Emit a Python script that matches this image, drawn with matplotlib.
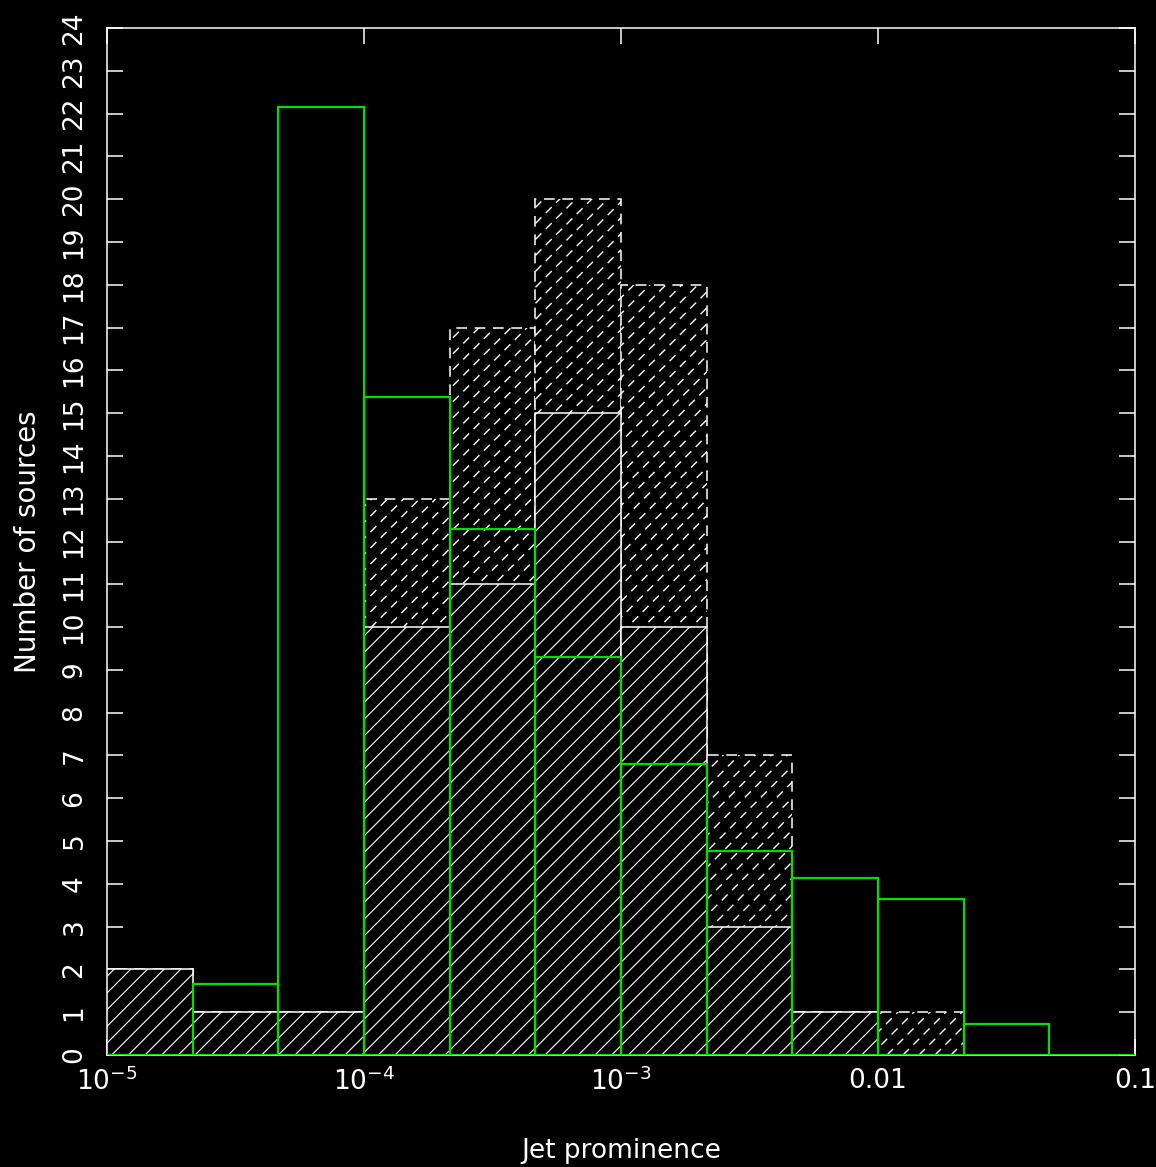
import numpy as np
import matplotlib
matplotlib.use("Agg")
import matplotlib.pyplot as plt
from matplotlib.collections import LineCollection
from matplotlib.ticker import FixedLocator, FixedFormatter, NullLocator

# Bin edges: 1/3 decade from 1e-5 to 0.1
log_edges = [-5, -14 / 3, -13 / 3, -4, -11 / 3, -10 / 3, -3, -8 / 3, -7 / 3, -2, -5 / 3, -4 / 3, -1]
edges = [10 ** e for e in log_edges]

# Counts per bin
solid_counts = [2, 1, 1, 10, 11, 15, 10, 3, 1, 0, 0, 0]
dashed_counts = [2, 1, 1, 13, 17, 20, 18, 7, 1, 1, 0, 0]
green_counts = [0, 1.66, 22.15, 15.37, 12.29, 9.30, 6.80, 4.76, 4.14, 3.64, 0.72, 0]

xtick_vals = [1e-5, 1e-4, 1e-3, 1e-2, 1e-1]
xtick_labels = [r"$10^{-5}$", r"$10^{-4}$", r"$10^{-3}$", "0.01", "0.1"]
yticks = list(range(0, 25))

plt.rcParams["font.family"] = ["DejaVu Sans"]
plt.rcParams["mathtext.default"] = "regular"
plt.rcParams["hatch.color"] = "white"
plt.rcParams["hatch.linewidth"] = 0.8

fig = plt.figure(figsize=(11.56, 11.67), dpi=100, facecolor="black")
ax = fig.add_axes([107 / 1156, 1 - 1055 / 1167, 1028 / 1156, 1027 / 1167])
ax.set_facecolor("black")

lefts = np.array(edges[:-1])
widths = np.diff(edges)

# dashed histogram (behind)
dashed_bars = ax.bar(lefts, dashed_counts, width=widths, align="edge",
                     facecolor="black", edgecolor="white", linewidth=1.1,
                     linestyle=(0, (7, 5)), zorder=2)

# dashed hatching, drawn by hand so the hatch lines can be dashed
step = 16 / 1028
segs = [[(t, 0), (t + 1, 1)] for t in np.arange(-1, 1, step)]
for bar, h in zip(dashed_bars, dashed_counts):
    if h <= 0:
        continue
    lc = LineCollection(segs, colors="white", linewidths=1.0,
                        linestyles=[(0, (6, 4.5))], transform=ax.transAxes, zorder=2.5)
    ax.add_collection(lc)
    lc.set_clip_path(bar)

# solid hatched histogram
ax.bar(lefts, solid_counts, width=widths, align="edge",
       facecolor="black", edgecolor="white", linewidth=1.1, hatch="//", zorder=3)

# green outline histogram
ax.bar(lefts, green_counts, width=widths, align="edge",
       fill=False, edgecolor="#00e000", linewidth=1.6, zorder=4)

ax.set_xscale("log")
ax.set_xlim(1e-5, 0.1)
ax.set_ylim(0, 24)

ax.xaxis.set_major_locator(FixedLocator(xtick_vals))
ax.xaxis.set_major_formatter(FixedFormatter(xtick_labels))
ax.xaxis.set_minor_locator(NullLocator())
ax.set_yticks(yticks)
ax.set_yticklabels([str(v) for v in yticks], rotation=90, va="center")

ax.tick_params(which="both", direction="in", top=True, right=True,
               length=11.5, width=1.1, colors="white", labelsize=19)
ax.tick_params(axis="x", pad=9)
ax.tick_params(axis="y", pad=14)
for s in ax.spines.values():
    s.set_color("white")
    s.set_linewidth(1.1)

ax.set_xlabel("Jet prominence", color="white", fontsize=19, labelpad=30)
ax.set_ylabel("Number of sources", color="white", fontsize=20, labelpad=14)

fig.savefig("out.png", dpi=100, facecolor="black")
